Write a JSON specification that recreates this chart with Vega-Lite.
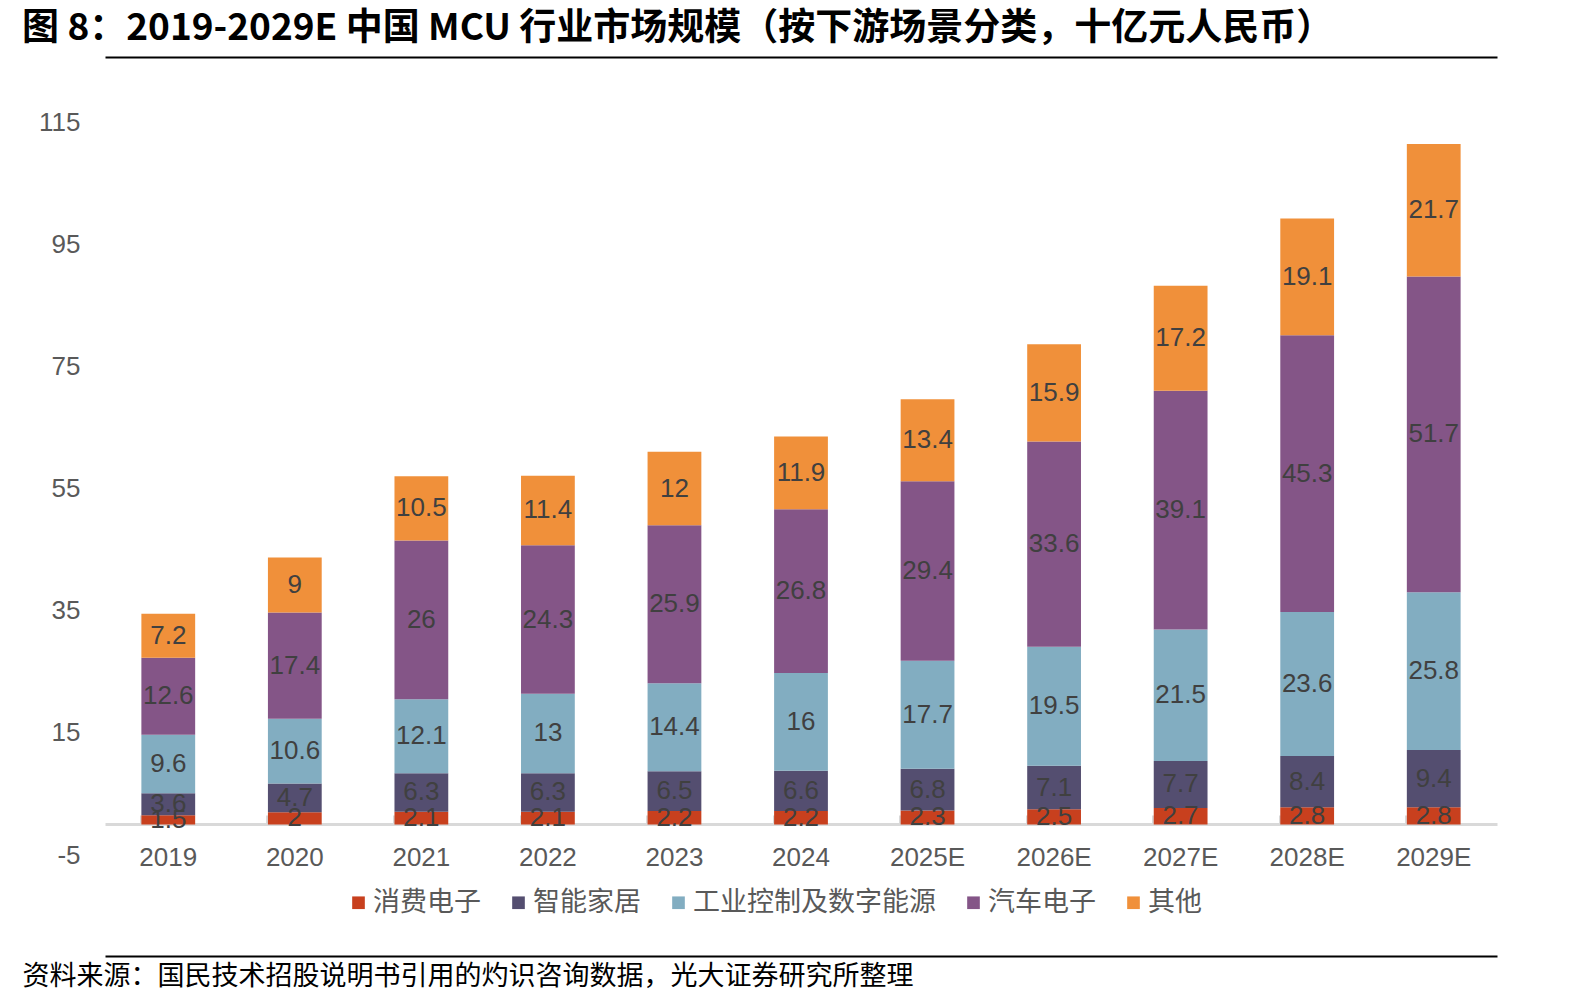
{
  "$schema": "https://vega.github.io/schema/vega-lite/v6.json",
  "autosize": {"type": "none"},
  "width": 1392,
  "height": 733,
  "padding": {"left": 105, "top": 122, "right": 97, "bottom": 149},
  "background": "white",
  "config": {"view": {"stroke": null}},
  "title": {
    "text": "图 8：2019-2029E 中国 MCU 行业市场规模（按下游场景分类，十亿元人民币）",
    "anchor": "start",
    "frame": "group",
    "dx": -83,
    "offset": 9,
    "font": "Noto Sans CJK SC",
    "fontSize": 37,
    "fontWeight": "bold",
    "color": "#000000",
    "limit": 0
  },
  "data": {
    "values": [
      {"year": "2019", "cat": "消费电子", "o": 1, "v": 1.5},
      {"year": "2019", "cat": "智能家居", "o": 2, "v": 3.6},
      {"year": "2019", "cat": "工业控制及数字能源", "o": 3, "v": 9.6},
      {"year": "2019", "cat": "汽车电子", "o": 4, "v": 12.6},
      {"year": "2019", "cat": "其他", "o": 5, "v": 7.2},
      {"year": "2020", "cat": "消费电子", "o": 1, "v": 2},
      {"year": "2020", "cat": "智能家居", "o": 2, "v": 4.7},
      {"year": "2020", "cat": "工业控制及数字能源", "o": 3, "v": 10.6},
      {"year": "2020", "cat": "汽车电子", "o": 4, "v": 17.4},
      {"year": "2020", "cat": "其他", "o": 5, "v": 9},
      {"year": "2021", "cat": "消费电子", "o": 1, "v": 2.1},
      {"year": "2021", "cat": "智能家居", "o": 2, "v": 6.3},
      {"year": "2021", "cat": "工业控制及数字能源", "o": 3, "v": 12.1},
      {"year": "2021", "cat": "汽车电子", "o": 4, "v": 26},
      {"year": "2021", "cat": "其他", "o": 5, "v": 10.5},
      {"year": "2022", "cat": "消费电子", "o": 1, "v": 2.1},
      {"year": "2022", "cat": "智能家居", "o": 2, "v": 6.3},
      {"year": "2022", "cat": "工业控制及数字能源", "o": 3, "v": 13},
      {"year": "2022", "cat": "汽车电子", "o": 4, "v": 24.3},
      {"year": "2022", "cat": "其他", "o": 5, "v": 11.4},
      {"year": "2023", "cat": "消费电子", "o": 1, "v": 2.2},
      {"year": "2023", "cat": "智能家居", "o": 2, "v": 6.5},
      {"year": "2023", "cat": "工业控制及数字能源", "o": 3, "v": 14.4},
      {"year": "2023", "cat": "汽车电子", "o": 4, "v": 25.9},
      {"year": "2023", "cat": "其他", "o": 5, "v": 12},
      {"year": "2024", "cat": "消费电子", "o": 1, "v": 2.2},
      {"year": "2024", "cat": "智能家居", "o": 2, "v": 6.6},
      {"year": "2024", "cat": "工业控制及数字能源", "o": 3, "v": 16},
      {"year": "2024", "cat": "汽车电子", "o": 4, "v": 26.8},
      {"year": "2024", "cat": "其他", "o": 5, "v": 11.9},
      {"year": "2025E", "cat": "消费电子", "o": 1, "v": 2.3},
      {"year": "2025E", "cat": "智能家居", "o": 2, "v": 6.8},
      {"year": "2025E", "cat": "工业控制及数字能源", "o": 3, "v": 17.7},
      {"year": "2025E", "cat": "汽车电子", "o": 4, "v": 29.4},
      {"year": "2025E", "cat": "其他", "o": 5, "v": 13.4},
      {"year": "2026E", "cat": "消费电子", "o": 1, "v": 2.5},
      {"year": "2026E", "cat": "智能家居", "o": 2, "v": 7.1},
      {"year": "2026E", "cat": "工业控制及数字能源", "o": 3, "v": 19.5},
      {"year": "2026E", "cat": "汽车电子", "o": 4, "v": 33.6},
      {"year": "2026E", "cat": "其他", "o": 5, "v": 15.9},
      {"year": "2027E", "cat": "消费电子", "o": 1, "v": 2.7},
      {"year": "2027E", "cat": "智能家居", "o": 2, "v": 7.7},
      {"year": "2027E", "cat": "工业控制及数字能源", "o": 3, "v": 21.5},
      {"year": "2027E", "cat": "汽车电子", "o": 4, "v": 39.1},
      {"year": "2027E", "cat": "其他", "o": 5, "v": 17.2},
      {"year": "2028E", "cat": "消费电子", "o": 1, "v": 2.8},
      {"year": "2028E", "cat": "智能家居", "o": 2, "v": 8.4},
      {"year": "2028E", "cat": "工业控制及数字能源", "o": 3, "v": 23.6},
      {"year": "2028E", "cat": "汽车电子", "o": 4, "v": 45.3},
      {"year": "2028E", "cat": "其他", "o": 5, "v": 19.1},
      {"year": "2029E", "cat": "消费电子", "o": 1, "v": 2.8},
      {"year": "2029E", "cat": "智能家居", "o": 2, "v": 9.4},
      {"year": "2029E", "cat": "工业控制及数字能源", "o": 3, "v": 25.8},
      {"year": "2029E", "cat": "汽车电子", "o": 4, "v": 51.7},
      {"year": "2029E", "cat": "其他", "o": 5, "v": 21.7}
    ]
  },
  "encoding": {
    "x": {
      "field": "year",
      "type": "nominal",
      "sort": null,
      "scale": {"paddingInner": 0.575, "paddingOuter": 0.2875}
    },
    "y": {
      "field": "v",
      "type": "quantitative",
      "stack": "zero",
      "scale": {"domain": [-5, 115], "nice": false, "zero": false},
      "axis": {
        "title": null,
        "values": [-5, 15, 35, 55, 75, 95, 115],
        "labelExpr": "'' + datum.value",
        "grid": false,
        "domain": false,
        "ticks": false,
        "labelPadding": 25,
        "labelFont": "Liberation Sans",
        "labelFontSize": 26,
        "labelColor": "#595959"
      }
    },
    "order": {"field": "o", "type": "quantitative"}
  },
  "layer": [
    {
      "mark": {"type": "bar"},
      "encoding": {
        "x": {
          "field": "year",
          "type": "nominal",
          "sort": null,
          "axis": {
            "title": null,
            "orient": "bottom",
            "offset": -31,
            "labelAngle": 0,
            "domainColor": "#D9D9D9",
            "domainWidth": 3,
            "ticks": true,
            "bandPosition": 0,
            "tickColor": "#D9D9D9",
            "tickWidth": 3,
            "tickSize": -9,
            "labelPadding": 29,
            "labelFont": "Liberation Sans",
            "labelFontSize": 26,
            "labelColor": "#595959"
          }
        },
        "color": {
          "field": "cat",
          "type": "nominal",
          "sort": ["消费电子", "智能家居", "工业控制及数字能源", "汽车电子", "其他"],
          "scale": {
            "domain": ["消费电子", "智能家居", "工业控制及数字能源", "汽车电子", "其他"],
            "range": ["#C8401E", "#544E70", "#82ADC1", "#845587", "#F0903A"]
          },
          "legend": {
            "title": null,
            "orient": "none",
            "direction": "horizontal",
            "legendX": 240,
            "legendY": 767,
            "symbolType": "square",
            "symbolSize": 160,
            "symbolStrokeWidth": 0,
            "symbolOffset": 0,
            "labelOffset": 1,
            "labelLimit": 0,
            "columnPadding": 24,
            "labelFont": "Noto Sans CJK SC",
            "labelFontSize": 27,
            "labelColor": "#595959"
          }
        }
      }
    },
    {
      "mark": {"type": "text", "font": "Liberation Sans", "fontSize": 26, "color": "#404040", "baseline": "middle", "align": "center"},
      "encoding": {
        "x": {
          "field": "year",
          "type": "nominal",
          "sort": null,
          "axis": {
            "title": null,
            "orient": "top",
            "offset": 65,
            "labels": false,
            "ticks": false,
            "domainColor": "#000000",
            "domainWidth": 2
          }
        },
        "y": {"field": "v", "type": "quantitative", "stack": "zero", "bandPosition": 0.5},
        "text": {"field": "v", "type": "quantitative"}
      }
    },
    {
      "mark": {"type": "text", "opacity": 0},
      "encoding": {
        "x": {
          "field": "year",
          "type": "nominal",
          "sort": null,
          "axis": {
            "title": "资料来源：国民技术招股说明书引用的灼识咨询数据，光大证券研究所整理",
            "orient": "bottom",
            "offset": 101,
            "labels": false,
            "ticks": false,
            "domainColor": "#000000",
            "domainWidth": 2,
            "titleX": -83,
            "titleY": 20,
            "titleAlign": "left",
            "titleAnchor": "start",
            "titleBaseline": "middle",
            "titleFont": "Noto Sans CJK SC",
            "titleFontSize": 27,
            "titleFontWeight": "normal",
            "titleColor": "#000000",
            "titleLimit": 0
          }
        },
        "text": {"value": ""}
      }
    }
  ],
  "resolve": {"axis": {"x": "independent"}}
}
